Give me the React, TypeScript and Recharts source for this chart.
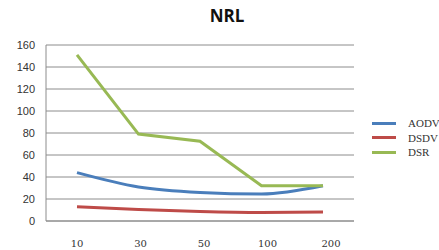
import React from 'react';
import { LineChart, Line, XAxis, YAxis, CartesianGrid, Legend } from 'recharts';

const nodes = ['10', '30', '50', '100', '200'];
const aodv = [44, 31, 26, 24.5, 32];
const dsdv = [13, 10.5, 8.6, 7.7, 8.2];
const dsr = [151, 79, 72.5, 32, 32];
const yTicks = [0, 20, 40, 60, 80, 100, 120, 140, 160];

const seriesInfo = [
  { key: 'AODV', color: '#4a7ebb', values: aodv, type: 'monotone' },
  { key: 'DSDV', color: '#be4b48', values: dsdv, type: 'monotone' },
  { key: 'DSR', color: '#98b954', values: dsr, type: 'linear' },
];

const data = nodes.map((n, i) => ({
  name: n,
  AODV: aodv[i],
  DSDV: dsdv[i],
  DSR: dsr[i],
}));

const XTick = (props: any) => {
  const { x, y, payload, index } = props;
  return (
    <text
      x={x + index * 2}
      y={y}
      dy={18}
      textAnchor="middle"
      fill="#333"
      fontSize={10}
      fontFamily="'DejaVu Serif', serif"
    >
      {payload.value}
    </text>
  );
};

const LegendBox = () => (
  <div style={{ fontFamily: "'Liberation Serif', serif", fontSize: 11, color: '#333' }}>
    {seriesInfo.map((s) => (
      <div key={s.key} style={{ display: 'flex', alignItems: 'center', height: 14.5, whiteSpace: 'nowrap' }}>
        <span style={{ display: 'inline-block', width: 24, height: 3, background: s.color, marginRight: 12 }} />
        <span>{s.key}</span>
      </div>
    ))}
  </div>
);

export default function App() {
  return (
    <div style={{ position: 'absolute', left: 0, top: 0, width: 439, height: 250, background: '#fff', overflow: 'hidden' }}>
      <div
        style={{
          position: 'absolute',
          left: 0,
          width: 454,
          top: 4,
          textAlign: 'center',
          fontFamily: "'Open Sans', sans-serif",
          fontWeight: 700,
          fontSize: 17,
          color: '#111',
        }}
      >
        NRL
      </div>
      <LineChart width={439} height={250} data={data} margin={{ top: 45, right: 85, left: 0, bottom: 0 }}>
        <CartesianGrid vertical={false} stroke="#8c8c8c" strokeWidth={1} />
        <XAxis
          dataKey="name"
          height={29}
          padding={{ left: 31, right: 31 }}
          axisLine={{ stroke: '#8c8c8c' }}
          tickLine={false}
          tick={<XTick />}
        />
        <YAxis
          width={46}
          domain={[0, 160]}
          ticks={yTicks}
          interval={0}
          axisLine={{ stroke: '#8c8c8c' }}
          tickLine={false}
          tickMargin={5}
          tick={{ fontSize: 11, fill: '#333', fontFamily: "'Liberation Sans', sans-serif" }}
        />
        <Legend
          layout="vertical"
          align="center"
          verticalAlign="middle"
          content={<LegendBox />}
          wrapperStyle={{ left: 372, top: 116, width: 80 }}
        />
        {seriesInfo.map((s) => (
          <Line
            key={s.key}
            type={s.type as any}
            dataKey={s.key}
            stroke={s.color}
            strokeWidth={3}
            dot={false}
            isAnimationActive={false}
          />
        ))}
      </LineChart>
    </div>
  );
}
